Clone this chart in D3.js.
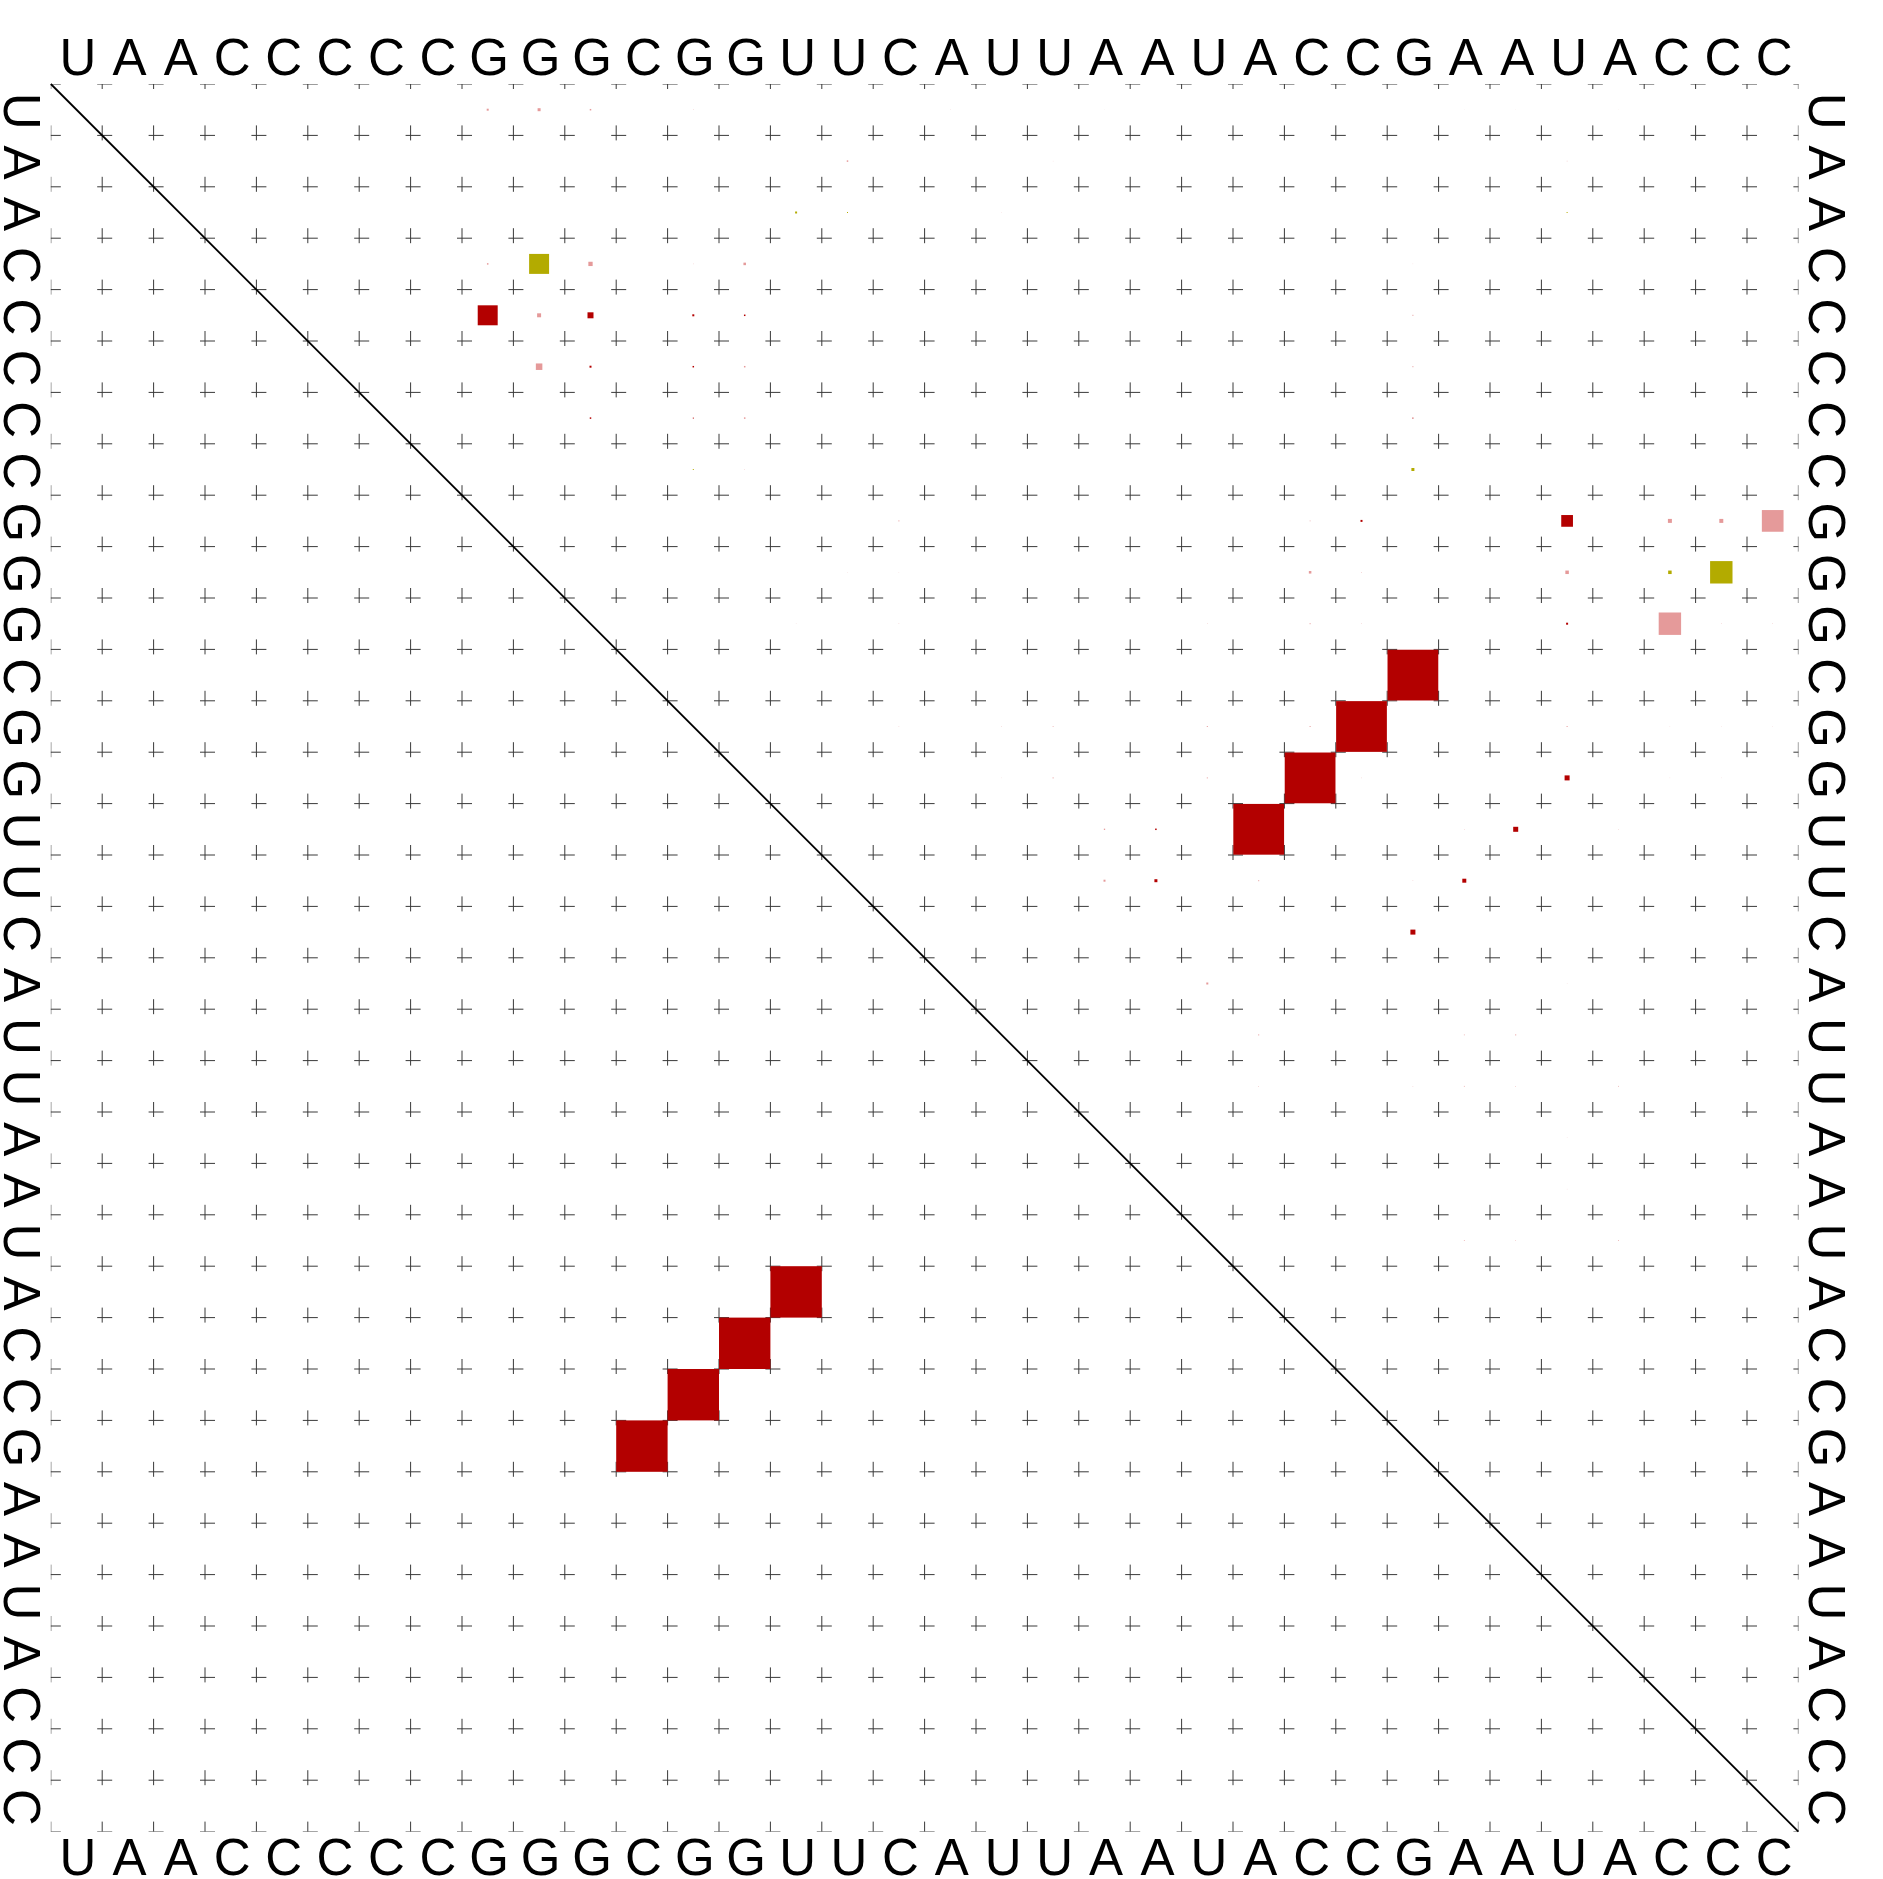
<!DOCTYPE html>
<html>
<head>
<meta charset="utf-8">
<script src="https://cdn.jsdelivr.net/npm/d3@7"></script>
<style>
  html, body { margin: 0; padding: 0; background: #fff; }
  svg { display: block; }
</style>
</head>
<body>
<div id="chart"></div>
<script>
// ---- data ----
const sequence = "UAACCCCCGGGCGGUUCAUUAAUACCGAAUACCC".split("");

// upper triangle: base-pair probabilities [i, j, probability, colour class]
const upperPairs = [
  [1, 9, 0.0015, "p"], [1, 10, 0.0034, "p"], [1, 11, 0.00085, "p"], [1, 13, 0.0001, "p"],
  [1, 18, 0.00006, "p"], [1, 21, 0.00003, "p"], [1, 28, 0.00003, "p"], [1, 29, 0.00003, "p"], [1, 31, 0.00003, "p"],
  [2, 16, 0.00085, "p"], [2, 20, 0.00006, "p"], [2, 30, 0.00014, "p"],
  [3, 15, 0.0015, "o"], [3, 16, 0.00038, "o"], [3, 19, 0.00006, "p"], [3, 30, 0.00038, "o"],
  [4, 9, 0.00085, "p"], [4, 10, 0.151, "o"], [4, 11, 0.007, "p"], [4, 13, 0.0001, "p"], [4, 14, 0.0024, "p"], [4, 27, 0.00006, "p"],
  [5, 9, 0.151, "r"], [5, 10, 0.006, "p"], [5, 11, 0.0136, "r"], [5, 13, 0.0015, "r"], [5, 14, 0.00085, "r"], [5, 27, 0.00038, "p"],
  [6, 10, 0.016, "p"], [6, 11, 0.0015, "r"], [6, 13, 0.00085, "r"], [6, 14, 0.00085, "p"], [6, 27, 0.00038, "p"],
  [7, 11, 0.00085, "r"], [7, 13, 0.00038, "r"], [7, 14, 0.00085, "p"], [7, 27, 0.00038, "r"],
  [8, 13, 0.00038, "o"], [8, 14, 0.0001, "p"], [8, 27, 0.0034, "o"],
  [9, 17, 0.00038, "p"], [9, 25, 0.00024, "p"], [9, 26, 0.0015, "r"], [9, 30, 0.052, "r"], [9, 32, 0.006, "p"], [9, 33, 0.006, "p"], [9, 34, 0.178, "p"],
  [10, 16, 0.00006, "p"], [10, 17, 0.00006, "p"], [10, 25, 0.0024, "p"], [10, 26, 0.00014, "p"], [10, 30, 0.0046, "p"], [10, 32, 0.0046, "o"], [10, 33, 0.19, "o"],
  [11, 15, 0.00006, "p"], [11, 17, 0.0001, "p"], [11, 23, 0.0001, "p"], [11, 25, 0.00038, "p"], [11, 26, 0.0001, "p"], [11, 30, 0.0015, "r"], [11, 32, 0.19, "p"], [11, 33, 0.0001, "p"], [11, 34, 0.0001, "p"],
  [12, 27, 0.975, "r"],
  [13, 17, 0.0001, "p"], [13, 19, 0.0001, "p"], [13, 20, 0.00024, "p"], [13, 23, 0.00038, "p"], [13, 25, 0.00038, "p"], [13, 26, 0.975, "r"], [13, 30, 0.00038, "p"], [13, 32, 0.00006, "p"], [13, 33, 0.00006, "p"], [13, 34, 0.00006, "p"],
  [14, 19, 0.00006, "p"], [14, 20, 0.00038, "p"], [14, 23, 0.00038, "p"], [14, 25, 0.975, "r"], [14, 26, 0.0001, "p"], [14, 30, 0.0095, "r"], [14, 32, 0.00006, "p"], [14, 33, 0.00006, "p"],
  [15, 21, 0.00064, "p"], [15, 22, 0.00085, "r"], [15, 24, 0.975, "r"], [15, 28, 0.0001, "p"], [15, 29, 0.0095, "r"], [15, 31, 0.0001, "p"],
  [16, 21, 0.0015, "p"], [16, 22, 0.0034, "r"], [16, 24, 0.00038, "p"], [16, 27, 0.0001, "p"], [16, 28, 0.006, "r"],
  [17, 27, 0.0095, "r"],
  [18, 23, 0.0015, "p"], [18, 30, 0.00006, "p"],
  [19, 24, 0.00038, "p"], [19, 28, 0.00024, "p"], [19, 29, 0.00038, "p"],
  [20, 24, 0.00014, "p"], [20, 27, 0.0001, "p"], [20, 28, 0.00024, "p"], [20, 29, 0.00014, "p"], [20, 31, 0.00024, "p"],
  [21, 30, 0.00006, "p"],
  [22, 30, 0.00006, "p"],
  [23, 28, 0.00024, "p"], [23, 29, 0.00014, "p"], [23, 31, 0.00024, "p"]
];

// lower triangle: MFE structure pairs [i, j]
const mfePairs = [[12, 27], [13, 26], [14, 25], [15, 24]];

const colourOf = { r: "#b30000", p: "#e59a9a", o: "#b3ab00" };

// ---- layout ----
const W = 1883, H = 1879;
const x0 = 50.8, x1 = 1798.4, y0 = 84, y1 = 1831.6;
const n = sequence.length;
const idx = d3.range(1, n + 1);

const x = d3.scaleBand().domain(idx).range([x0, x1]).paddingInner(0).paddingOuter(0);
const y = d3.scaleBand().domain(idx).range([y0, y1]).paddingInner(0).paddingOuter(0);
const cell = x.bandwidth();
const side = d3.scaleSqrt().domain([0, 1]).range([0, cell]);
const gx = d3.scaleLinear().domain([0, n]).range([x0, x1]);
const gy = d3.scaleLinear().domain([0, n]).range([y0, y1]);

const svg = d3.select("#chart").append("svg")
  .attr("width", W).attr("height", H)
  .attr("viewBox", `0 0 ${W} ${H}`);

svg.append("rect").attr("width", W).attr("height", H).attr("fill", "#fff");

svg.append("clipPath").attr("id", "box")
  .append("rect").attr("x", x0).attr("y", y0).attr("width", x1 - x0).attr("height", y1 - y0);

// grid crosses
const gridPts = [];
for (let a = 0; a <= n; a++) for (let b = 0; b <= n; b++) gridPts.push([a, b]);
const grid = svg.append("g").attr("clip-path", "url(#box)")
  .attr("stroke", "#3a3a3a").attr("stroke-width", 1).attr("fill", "none");
grid.append("path").attr("d", gridPts.map(([a, b]) => {
  const px = gx(a), py = gy(b);
  return `M${px - 5},${py}H${px + 10}M${px},${py - 10}V${py + 5}`;
}).join(""));

// probability squares (upper triangle)
svg.append("g").selectAll("rect.u").data(upperPairs).join("rect")
  .attr("class", "u")
  .attr("x", d => x(d[1]) + (cell - side(d[2])) / 2)
  .attr("y", d => y(d[0]) + (cell - side(d[2])) / 2)
  .attr("width", d => side(d[2]))
  .attr("height", d => side(d[2]))
  .attr("fill", d => colourOf[d[3]]);

// MFE squares (lower triangle)
svg.append("g").selectAll("rect.l").data(mfePairs).join("rect")
  .attr("class", "l")
  .attr("x", d => x(d[0]))
  .attr("y", d => y(d[1]))
  .attr("width", side(1))
  .attr("height", side(1))
  .attr("fill", colourOf.r);

// diagonal
svg.append("line")
  .attr("x1", gx(0)).attr("y1", gy(0)).attr("x2", gx(n)).attr("y2", gy(n))
  .attr("stroke", "#000").attr("stroke-width", 1.8);

// sequence labels
const font = "'Liberation Sans', Arial, Helvetica, sans-serif";
const fs = 51;
const labels = svg.append("g").attr("font-family", font).attr("font-size", fs)
  .attr("fill", "#000").attr("text-anchor", "middle");

labels.selectAll("text.top").data(idx).join("text").attr("class", "top")
  .attr("x", d => x(d) + cell / 2 + 1.5).attr("y", 75)
  .text(d => sequence[d - 1]);
labels.selectAll("text.bottom").data(idx).join("text").attr("class", "bottom")
  .attr("x", d => x(d) + cell / 2 + 1.5).attr("y", 1875)
  .text(d => sequence[d - 1]);
labels.selectAll("text.left").data(idx).join("text").attr("class", "left")
  .attr("transform", d => `translate(3.5,${y(d) + cell / 2 + 1.5}) rotate(90)`)
  .text(d => sequence[d - 1]);
labels.selectAll("text.right").data(idx).join("text").attr("class", "right")
  .attr("transform", d => `translate(1808.5,${y(d) + cell / 2 + 1.5}) rotate(90)`)
  .text(d => sequence[d - 1]);
</script>
</body>
</html>
